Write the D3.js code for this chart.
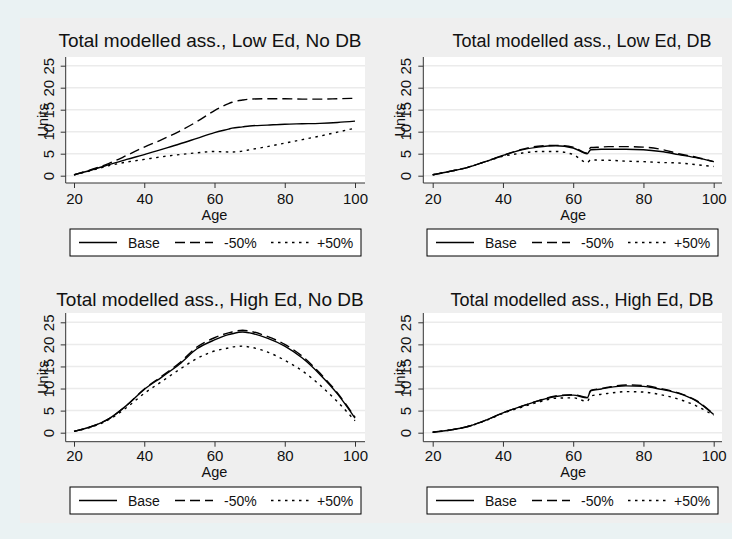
<!DOCTYPE html>
<html lang="en">
<head>
    <meta charset="UTF-8">
    <title>Total modelled assets</title>
    <style>
        body { margin: 0; background: #eaf2f3; }
        svg { display: block; }
        text { font-family: "Liberation Sans", Arial, sans-serif; fill: #111; }
        .tick text { font-size: 15px; }
        .tick line { stroke: #333; }
        .label { font-size: 14.5px; }
        .legtext { font-size: 14px; }
        .grid { stroke: #ebebeb; stroke-width: 1.5px; }
        .axisline { stroke: #333; stroke-width: 1px; }
        .series { fill: none; stroke: #000; stroke-width: 1.4px; }
        .minus { stroke-dasharray: 10 5; }
        .plus { stroke-dasharray: 2.5 4.5; }
    </style>
    <script src="https://cdn.jsdelivr.net/npm/d3@7"></script>
</head>
<body>
<script>
    // ages shared by every series
    const ages = [20, 25, 30, 35, 40, 45, 50, 55, 60, 64, 65, 68, 70, 75, 80, 85, 90, 95, 100];

    // Low Ed, No DB
    const lowNoDB_base  = [0.2, 1.3, 2.5, 3.7, 4.8, 6.0, 7.2, 8.5, 9.8, 10.6, 10.8, 11.1, 11.3, 11.5, 11.7, 11.8, 11.9, 12.1, 12.4];
    const lowNoDB_minus = [0.2, 1.4, 2.8, 4.6, 6.5, 8.2, 10.1, 12.3, 14.8, 16.4, 16.7, 17.2, 17.4, 17.5, 17.5, 17.4, 17.4, 17.5, 17.6];
    const lowNoDB_plus  = [0.2, 1.2, 2.3, 3.1, 3.7, 4.3, 4.8, 5.2, 5.5, 5.4, 5.4, 5.6, 5.9, 6.6, 7.4, 8.2, 9.0, 9.9, 10.8];

    // Low Ed, DB
    const lowDB_base  = [0.2, 1.0, 1.9, 3.2, 4.6, 5.8, 6.5, 6.8, 6.3, 5.0, 5.9, 6.0, 6.0, 6.0, 5.9, 5.5, 4.8, 4.1, 3.2];
    const lowDB_minus = [0.2, 1.0, 1.9, 3.2, 4.6, 5.9, 6.7, 6.9, 6.5, 5.1, 6.4, 6.5, 6.6, 6.6, 6.5, 6.0, 5.0, 4.2, 3.2];
    const lowDB_plus  = [0.2, 1.0, 1.9, 3.2, 4.4, 5.1, 5.5, 5.5, 4.8, 3.0, 3.6, 3.5, 3.5, 3.3, 3.2, 3.0, 2.9, 2.5, 2.1];

    // High Ed, No DB
    const highNoDB_base  = [0.3, 1.4, 3.2, 6.2, 9.8, 12.6, 15.5, 19.0, 21.0, 22.2, 22.4, 22.8, 22.6, 21.4, 19.6, 16.9, 13.2, 8.8, 3.3];
    const highNoDB_minus = [0.3, 1.4, 3.2, 6.2, 9.9, 12.8, 15.8, 19.4, 21.5, 22.6, 22.8, 23.2, 23.0, 21.8, 20.0, 17.3, 13.5, 9.0, 3.5];
    const highNoDB_plus  = [0.3, 1.3, 3.0, 5.7, 8.9, 11.6, 14.3, 16.8, 18.5, 19.2, 19.4, 19.6, 19.4, 18.3, 16.4, 14.0, 10.8, 7.0, 2.7];

    // High Ed, DB
    const highDB_base  = [0.1, 0.6, 1.4, 2.8, 4.5, 5.9, 7.2, 8.2, 8.5, 7.9, 9.5, 9.9, 10.2, 10.6, 10.5, 9.8, 8.9, 7.2, 4.1];
    const highDB_minus = [0.1, 0.6, 1.4, 2.8, 4.5, 5.9, 7.2, 8.3, 8.6, 8.0, 9.6, 10.0, 10.3, 10.8, 10.7, 10.0, 9.0, 7.3, 4.2];
    const highDB_plus  = [0.1, 0.6, 1.4, 2.7, 4.4, 5.7, 6.9, 7.8, 7.9, 7.1, 8.3, 8.7, 8.9, 9.3, 9.2, 8.6, 7.6, 6.1, 3.9];

    const titles = ["Total modelled ass., Low Ed, No DB", "Total modelled ass., Low Ed, DB",
        "Total modelled ass., High Ed, No DB", "Total modelled ass., High Ed, DB"];
    const seriesNames = ["Base", "-50%", "+50%"];
    const seriesClass = ["base", "minus", "plus"];
    const xTicks = [20, 40, 60, 80, 100];
    const yTicks = [0, 5, 10, 15, 20, 25];

    const panelData = [
        [lowNoDB_base, lowNoDB_minus, lowNoDB_plus],
        [lowDB_base, lowDB_minus, lowDB_plus],
        [highNoDB_base, highNoDB_minus, highNoDB_plus],
        [highDB_base, highDB_minus, highDB_plus]
    ];

    const width = 732, height = 539;

    // layout of each panel (pixels)
    const cols = [
        {left: 65.7, right: 365, x20: 74, x100: 355, titleX: 210, titleSize: 19, legX: 70},
        {left: 423.3, right: 722, x20: 432.7, x100: 713.7, titleX: 582, titleSize: 18, legX: 427}
    ];
    const rows = [
        {top: 57, bottom: 183, y0: 175.7, y25: 65.7, titleY: 47, tickY: 204, ageY: 219.5, legY: 229},
        {top: 313, bottom: 441.7, y0: 432.7, y25: 322.3, titleY: 306, tickY: 461, ageY: 477, legY: 487}
    ];

    const svg = d3.select("body").append("svg")
        .attr("width", width)
        .attr("height", height);

    // grey graph region
    svg.append("rect")
        .attr("x", 20).attr("y", 18)
        .attr("width", width - 20).attr("height", 505)
        .attr("fill", "#efefef");

    panelData.forEach((series, i) => {
        const c = cols[i % 2], r = rows[Math.floor(i / 2)];

        const xScale = d3.scaleLinear().domain([20, 100]).range([c.x20, c.x100]);
        const yScale = d3.scaleLinear().domain([0, 25]).range([r.y0, r.y25]);

        const g = svg.append("g");

        // plot region
        g.append("rect")
            .attr("x", c.left).attr("y", r.top)
            .attr("width", c.right - c.left).attr("height", r.bottom - r.top)
            .attr("fill", "#fff");

        g.selectAll(".grid")
            .data(yTicks)
            .enter()
            .append("line")
            .attr("class", "grid")
            .attr("x1", c.left).attr("x2", c.right)
            .attr("y1", d => yScale(d)).attr("y2", d => yScale(d));

        // axes
        const yAxis = g.append("g")
            .attr("transform", `translate(${c.left},0)`)
            .call(d3.axisLeft(yScale).tickValues(yTicks).tickSize(5).tickSizeOuter(0));
        yAxis.select(".domain").remove();
        yAxis.selectAll("text")
            .attr("x", null).attr("dy", null)
            .attr("text-anchor", "middle")
            .attr("transform", "translate(-12,0) rotate(-90)");

        const xAxis = g.append("g")
            .attr("transform", `translate(0,${r.bottom})`)
            .call(d3.axisBottom(xScale).tickValues(xTicks).tickSize(5).tickSizeOuter(0));
        xAxis.select(".domain").remove();
        xAxis.selectAll("text")
            .attr("y", r.tickY - r.bottom).attr("dy", null);

        g.append("line").attr("class", "axisline")
            .attr("x1", c.left).attr("x2", c.left)
            .attr("y1", r.top).attr("y2", r.bottom);
        g.append("line").attr("class", "axisline")
            .attr("x1", c.left).attr("x2", c.right)
            .attr("y1", r.bottom).attr("y2", r.bottom);

        // lines
        const lineGen = d3.line()
            .x((d, j) => xScale(ages[j]))
            .y(d => yScale(d))
            .curve(d3.curveMonotoneX);

        g.selectAll(".series")
            .data(series)
            .enter()
            .append("path")
            .attr("class", (d, k) => "series " + seriesClass[k])
            .attr("d", d => lineGen(d));

        // titles and labels
        g.append("text")
            .attr("x", c.titleX).attr("y", r.titleY)
            .attr("text-anchor", "middle")
            .style("font-size", c.titleSize + "px")
            .text(titles[i]);

        g.append("text")
            .attr("class", "label")
            .attr("transform", `translate(${c.left - 18},${(r.top + r.bottom) / 2}) rotate(-90)`)
            .attr("text-anchor", "middle")
            .text("Units");

        g.append("text")
            .attr("class", "label")
            .attr("x", (c.x20 + c.x100) / 2).attr("y", r.ageY)
            .attr("text-anchor", "middle")
            .text("Age");

        // legend
        const leg = g.append("g")
            .attr("transform", `translate(${c.legX},${r.legY})`);
        leg.append("rect")
            .attr("width", 291).attr("height", 27)
            .attr("fill", "#fff").attr("stroke", "#000");

        const item = leg.selectAll(".item")
            .data(seriesNames)
            .enter()
            .append("g")
            .attr("transform", (d, k) => `translate(${9 + k * 96},0)`);
        item.append("line")
            .attr("class", (d, k) => "series " + seriesClass[k])
            .attr("x1", 0).attr("x2", 38)
            .attr("y1", 13.5).attr("y2", 13.5);
        item.append("text")
            .attr("class", "legtext")
            .attr("x", (d, k) => k === 2 ? 46 : 49)
            .attr("y", 19)
            .text(d => d);
    });
</script>
</body>
</html>
